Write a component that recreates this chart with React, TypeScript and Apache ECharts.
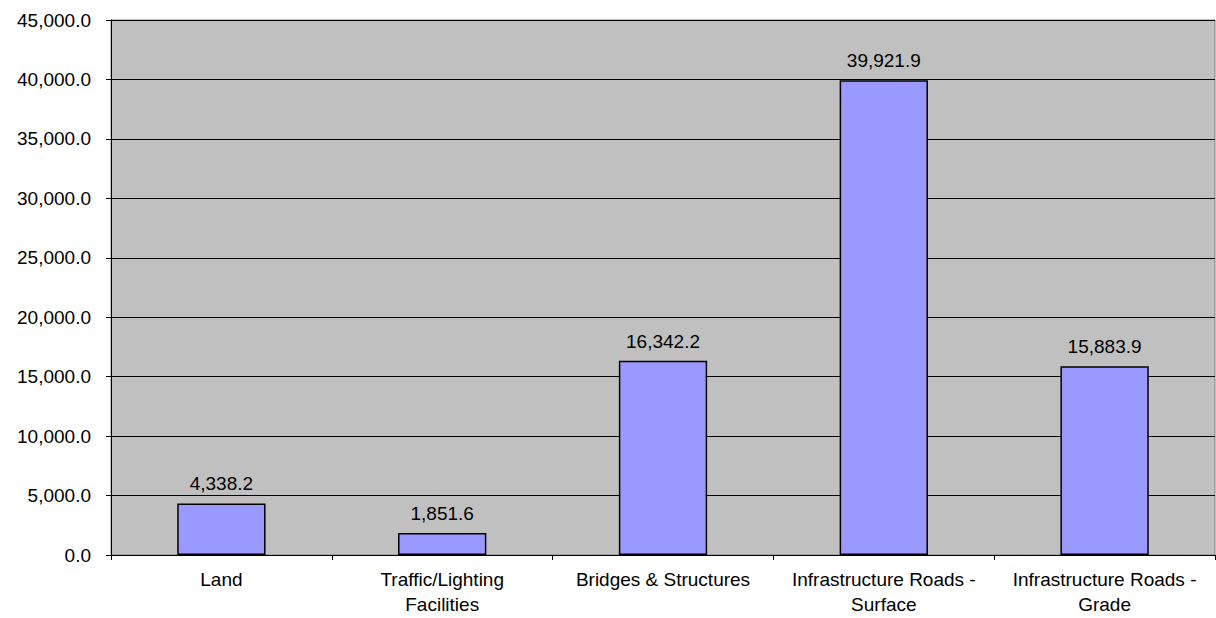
import React, { useEffect, useRef } from "react";
import * as echarts from "echarts";

const categories = [
  "Land",
  "Traffic/Lighting\nFacilities",
  "Bridges & Structures",
  "Infrastructure Roads -\nSurface",
  "Infrastructure Roads -\nGrade",
];
const values = [4338.2, 1851.6, 16342.2, 39921.9, 15883.9];
const yMin = 0;
const yMax = 45000;
const yInterval = 5000;

function fmt(v: number): string {
  const fixed = v.toFixed(1);
  const [intPart, dec] = fixed.split(".");
  const withCommas = intPart.replace(/\B(?=(\d{3})+(?!\d))/g, ",");
  return withCommas + "." + dec;
}

export default function App() {
  const ref = useRef<HTMLDivElement>(null);
  useEffect(() => {
    if (!ref.current) return;
    const chart = echarts.init(ref.current, null, { renderer: "svg" });
    const font = "'Liberation Sans', Arial, sans-serif";
    chart.setOption({
      animation: false,
      backgroundColor: "#ffffff",
      textStyle: { fontFamily: font },
      grid: {
        left: 111,
        top: 20,
        right: 1,
        bottom: 63,
        show: true,
        backgroundColor: "#C0C0C0",
        borderColor: "#808080",
        borderWidth: 1,
      },
      xAxis: {
        type: "category",
        data: categories,
        axisLine: { show: true, lineStyle: { color: "#000000", width: 1 } },
        axisTick: { show: true, length: 5, lineStyle: { color: "#000000" } },
        axisLabel: {
          color: "#000000",
          fontSize: 19,
          fontFamily: font,
          lineHeight: 25,
          margin: 12,
          interval: 0,
        },
      },
      yAxis: {
        type: "value",
        min: yMin,
        max: yMax,
        interval: yInterval,
        axisLine: { show: true, lineStyle: { color: "#000000", width: 1 } },
        axisTick: { show: true, length: 5, lineStyle: { color: "#000000" } },
        splitLine: { show: true, lineStyle: { color: "#000000", width: 1 } },
        axisLabel: {
          color: "#000000",
          fontSize: 19,
          fontFamily: font,
          margin: 20,
          formatter: (v: number) => fmt(v),
        },
      },
      series: [
        {
          type: "bar",
          data: values,
          barWidth: "40%",
          itemStyle: {
            color: "#9999FF",
            borderColor: "#000000",
            borderWidth: 1.5,
          },
          label: {
            show: true,
            position: "top",
            distance: 10,
            color: "#000000",
            fontSize: 19,
            fontFamily: font,
            formatter: (p: any) => fmt(p.value),
          },
        },
      ],
    });
    return () => chart.dispose();
  }, []);
  return (
    <div
      ref={ref}
      style={{ position: "fixed", left: 0, top: 0, width: 1216, height: 618 }}
    />
  );
}
